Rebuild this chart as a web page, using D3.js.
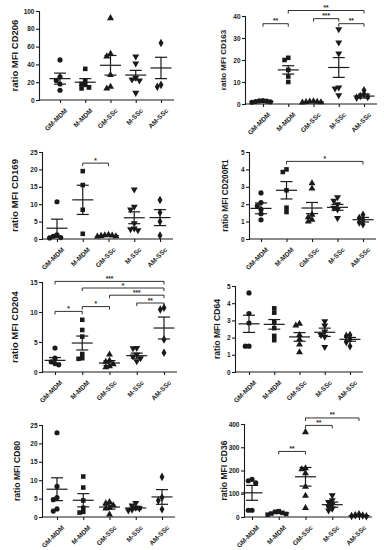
<!DOCTYPE html>
<html>
<head>
<meta charset="utf-8">
<script src="https://cdn.jsdelivr.net/npm/d3@7"></script>
<style>
  body { margin: 0; background: #fff; }
  svg { display: block; }
</style>
</head>
<body>
<script>
// groups on the x axis, same for every panel
const groups = ["GM-MDM", "M-MDM", "GM-SSc", "M-SSc", "AM-SSc"];

// CD206
const cd206Points = [[45, 26, 22, 18, 11], [35, 22, 18, 17, 14, 13], [92, 52, 49, 28, 15, 13], [49, 41, 25, 23, 22, 8], [64, 17, 15]];
const cd206Mean = [24, 20, 39, 28, 36];
const cd206Sem = [6.2, 4, 11, 5.3, 12];
const cd206Stars = [];

// CD163
const cd163Points = [[1.5, 1.3, 1.0, 0.8, 1.4, 1.1], [21, 20, 15.5, 12.5, 10], [1.2, 1.0, 0.8, 0.7, 1.1, 0.9], [34, 28, 23, 7.5, 7, 4], [6.3, 4.5, 3.6, 3.2, 2.9]];
const cd163Mean = [1.2, 15.5, 0.95, 16.6, 3.6];
const cd163Sem = [0.2, 1.9, 0.15, 4.5, 0.9];
const cd163Stars = [["GM-MDM", "M-MDM", "**", 36.5], ["M-MDM", "AM-SSc", "**", 42.5], ["GM-SSc", "M-SSc", "***", 38.8], ["M-SSc", "AM-SSc", "**", 36.5]];

// CD169
const cd169Points = [[10.7, 1.2, 0.8, 0.4, 0.3], [19.5, 15.5, 8.4, 1.5], [1.2, 1.0, 0.9, 0.8, 0.7, 1.1], [14.2, 9.3, 8.5, 4.5, 3, 2.8, 2.5], [11.2, 7.6, 5, 1]];
const cd169Mean = [3.1, 11.25, 0.95, 6.1, 6.15];
const cd169Sem = [2.6, 4.2, 0.1, 1.7, 2.3];
const cd169Stars = [["M-MDM", "GM-SSc", "*", 21.8]];

// CD200R1
const cd200Points = [[2.65, 2.1, 1.9, 1.7, 1.45, 1.1], [4.0, 3.85, 2.8, 1.8, 1.55], [3.2, 2.9, 1.4, 1.25, 1.1, 1.0], [2.4, 2.2, 2.0, 1.8, 1.7, 1.2], [1.4, 1.2, 1.1, 0.95, 0.85]];
const cd200Mean = [1.76, 2.8, 1.78, 1.82, 1.11];
const cd200Sem = [0.31, 0.5, 0.32, 0.17, 0.13];
const cd200Stars = [["M-MDM", "AM-SSc", "*", 4.46]];

// CD204
const cd204Points = [[4.0, 2.3, 1.7, 1.4, 1.2], [8.7, 7.0, 5.9, 3.0, 2.3, 2.2], [2.9, 1.9, 1.7, 1.3, 0.95, 0.8], [4.0, 3.95, 2.9, 2.6, 2.3, 1.8], [10.7, 10.4, 5.4, 3.2]];
const cd204Mean = [1.94, 4.83, 1.5, 2.72, 7.33];
const cd204Sem = [0.47, 1.16, 0.4, 0.42, 1.83];
const cd204Stars = [["GM-MDM", "AM-SSc", "***", 15.1], ["M-MDM", "AM-SSc", "*", 14], ["GM-SSc", "AM-SSc", "***", 12.8], ["M-SSc", "AM-SSc", "**", 11.5], ["GM-MDM", "M-MDM", "*", 10.1], ["M-MDM", "GM-SSc", "*", 10.9]];

// CD64
const cd64Points = [[4.6, 3.4, 2.85, 1.5, 1.5], [3.7, 3.45, 2.9, 2.55, 2.1, 1.85], [2.8, 2.7, 2.15, 1.9, 1.6, 1.15], [2.95, 2.7, 2.35, 2.15, 2.05, 1.45], [2.15, 2.1, 1.9, 1.75, 1.5]];
const cd64Mean = [2.8, 2.77, 2.04, 2.31, 1.9];
const cd64Sem = [0.5, 0.28, 0.25, 0.24, 0.11];
const cd64Stars = [];

// CD80
const cd80Points = [[22.9, 8.3, 5.3, 4.7, 2.2, 1.6], [11, 8, 4.5, 2.5, 1.4, 1.2], [4.1, 3.7, 3.2, 2.5, 2.3, 0.7], [3.8, 3.1, 2.5, 2.3, 2.0, 1.8], [10.9, 5.3, 4.5, 2.1]];
const cd80Mean = [7.55, 4.55, 2.7, 2.45, 5.45];
const cd80Sem = [3.1, 1.8, 0.55, 0.45, 2.0];
const cd80Stars = [];

// CD36
const cd36Points = [[162, 156, 147, 29, 29], [25, 22, 18, 15, 13, 10], [365, 210, 205, 188, 130, 91, 39], [93, 72, 65, 55, 45, 36, 28], [12, 8, 6, 4, 3]];
const cd36Mean = [104, 17, 173, 53, 6];
const cd36Sem = [32, 2.3, 40, 11, 1.5];
const cd36Stars = [["M-MDM", "GM-SSc", "**", 282], ["GM-SSc", "M-SSc", "**", 394], ["GM-SSc", "AM-SSc", "**", 426]];

// panel layout (pixels)
const panels = [
  {label: "ratio MFI CD206", pts: cd206Points, mean: cd206Mean, sem: cd206Sem, stars: cd206Stars, max: 100, step: 20,
   ax: 39, top: 11, bot: 100, c0: 60, c1: 161, lx: 15, ls: 9.5},
  {label: "ratio MFI CD163", pts: cd163Points, mean: cd163Mean, sem: cd163Sem, stars: cd163Stars, max: 40, step: 10,
   ax: 245, top: 16, bot: 104, c0: 263, c1: 364, lx: 223, ls: 8},
  {label: "ratio MFI CD169", pts: cd169Points, mean: cd169Mean, sem: cd169Sem, stars: cd169Stars, max: 25, step: 5,
   ax: 42, top: 152, bot: 239, c0: 57, c1: 160, lx: 15, ls: 9.7},
  {label: "ratio MFI CD200R1", pts: cd200Points, mean: cd200Mean, sem: cd200Sem, stars: cd200Stars, max: 5, step: 1,
   ax: 249, top: 152, bot: 239, c0: 261, c1: 363, lx: 225, ls: 8.2},
  {label: "ratio MFI CD204", pts: cd204Points, mean: cd204Mean, sem: cd204Sem, stars: cd204Stars, max: 15, step: 5,
   ax: 42, top: 282, bot: 372, c0: 55, c1: 164, lx: 15, ls: 9.5},
  {label: "ratio MFI CD64", pts: cd64Points, mean: cd64Mean, sem: cd64Sem, stars: cd64Stars, max: 5, step: 1,
   ax: 235, top: 286, bot: 372, c0: 249, c1: 350, lx: 217, ls: 8.6},
  {label: "ratio MFI CD80", pts: cd80Points, mean: cd80Mean, sem: cd80Sem, stars: cd80Stars, max: 25, step: 5,
   ax: 42, top: 425, bot: 517, c0: 57, c1: 162, lx: 17, ls: 8.6},
  {label: "ratio MFI CD36", pts: cd36Points, mean: cd36Mean, sem: cd36Sem, stars: cd36Stars, max: 400, step: 100,
   ax: 244, top: 424, bot: 517, c0: 252, c1: 359, lx: 224, ls: 8.6}
];

const symbols = [d3.symbolCircle, d3.symbolSquare, d3.symbolTriangle, d3.symbolTriangle, d3.symbolDiamond];
const ink = "#1a1a1a";

const svg = d3.select("body").append("svg")
  .attr("width", 384).attr("height", 550)
  .attr("font-family", "'Liberation Sans', Arial, sans-serif")
  .attr("font-weight", "bold");

// spread points that would overlap, prism style
function swarm(ys, d) {
  const order = ys.map((v, i) => i).sort((a, b) => ys[a] - ys[b]);
  const placed = [];
  const off = new Array(ys.length).fill(0);
  order.forEach(i => {
    for (let k = 0; k < 20; k++) {
      const dx = (k % 2 ? -1 : 1) * Math.ceil(k / 2) * d;
      const hit = placed.some(p => Math.abs(p.x - dx) < d && Math.abs(p.y - ys[i]) < d);
      if (!hit) { off[i] = dx; placed.push({x: dx, y: ys[i]}); break; }
    }
  });
  return off;
}

panels.forEach(p => {
  const g = svg.append("g");
  const y = d3.scaleLinear().domain([0, p.max]).range([p.bot, p.top]);
  const x = d3.scalePoint().domain(groups).range([p.c0, p.c1]);
  const xEnd = p.c1 + 13;

  // y axis
  g.append("g")
    .attr("transform", `translate(${p.ax},0)`)
    .call(d3.axisLeft(y).tickValues(d3.range(0, p.max + p.step / 2, p.step)).tickFormat(d3.format("d")).tickSize(3).tickPadding(1.5))
    .call(a => a.selectAll("path,line").attr("stroke", ink).attr("stroke-width", 1.1))
    .call(a => a.selectAll("text").attr("font-size", 6.5).attr("font-family", null).attr("fill", ink));

  // x axis
  g.append("g")
    .attr("transform", `translate(0,${p.bot})`)
    .call(d3.axisBottom(x).tickSize(3).tickPadding(2))
    .call(a => a.select(".domain").attr("d", `M${p.ax},0H${xEnd}`))
    .call(a => a.selectAll("path,line").attr("stroke", ink).attr("stroke-width", 1.1))
    .call(a => a.selectAll("text")
      .attr("font-size", 6.6).attr("font-family", null).attr("fill", ink)
      .attr("text-anchor", "end").attr("dy", "0.35em").attr("dx", 0)
      .attr("transform", "translate(2,6) rotate(-45)"));

  // y label
  g.append("text")
    .attr("transform", `translate(${p.lx},${(p.top + p.bot) / 2}) rotate(-90)`)
    .attr("text-anchor", "middle").attr("dy", "0.35em")
    .attr("font-size", p.ls).attr("fill", ink)
    .text(p.label);

  // points
  p.pts.forEach((vals, gi) => {
    const ys = vals.map(v => y(v));
    const off = swarm(ys, 3.7);
    const sym = d3.symbol(symbols[gi], 21);
    g.append("g").selectAll("path")
      .data(vals)
      .join("path")
      .attr("d", sym)
      .attr("transform", (v, i) => `translate(${x(groups[gi]) + off[i]},${y(v)})` + (gi === 3 ? " rotate(180)" : ""))
      .attr("fill", ink);
  });

  // mean +/- sem
  const eb = g.append("g").attr("stroke", ink).attr("stroke-width", 1.2).attr("fill", "none");
  groups.forEach((grp, gi) => {
    const cx = x(grp), m = p.mean[gi], s = p.sem[gi];
    eb.append("line").attr("x1", cx - 10.5).attr("x2", cx + 10.5).attr("y1", y(m)).attr("y2", y(m));
    eb.append("line").attr("x1", cx).attr("x2", cx).attr("y1", y(m + s)).attr("y2", y(Math.max(0, m - s)));
    eb.append("line").attr("x1", cx - 6).attr("x2", cx + 6).attr("y1", y(m + s)).attr("y2", y(m + s));
    eb.append("line").attr("x1", cx - 6).attr("x2", cx + 6).attr("y1", y(Math.max(0, m - s))).attr("y2", y(Math.max(0, m - s)));
  });

  // significance brackets
  p.stars.forEach(([a, b, lab, v]) => {
    const yy = y(v);
    g.append("path")
      .attr("d", `M${x(a)},${yy + 3}V${yy}H${x(b)}V${yy + 3}`)
      .attr("stroke", ink).attr("stroke-width", 0.9).attr("fill", "none");
    g.append("text")
      .attr("x", (x(a) + x(b)) / 2).attr("y", yy - 0.5)
      .attr("text-anchor", "middle").attr("font-size", 6.5).attr("fill", ink)
      .text(lab);
  });
});
</script>
</body>
</html>
